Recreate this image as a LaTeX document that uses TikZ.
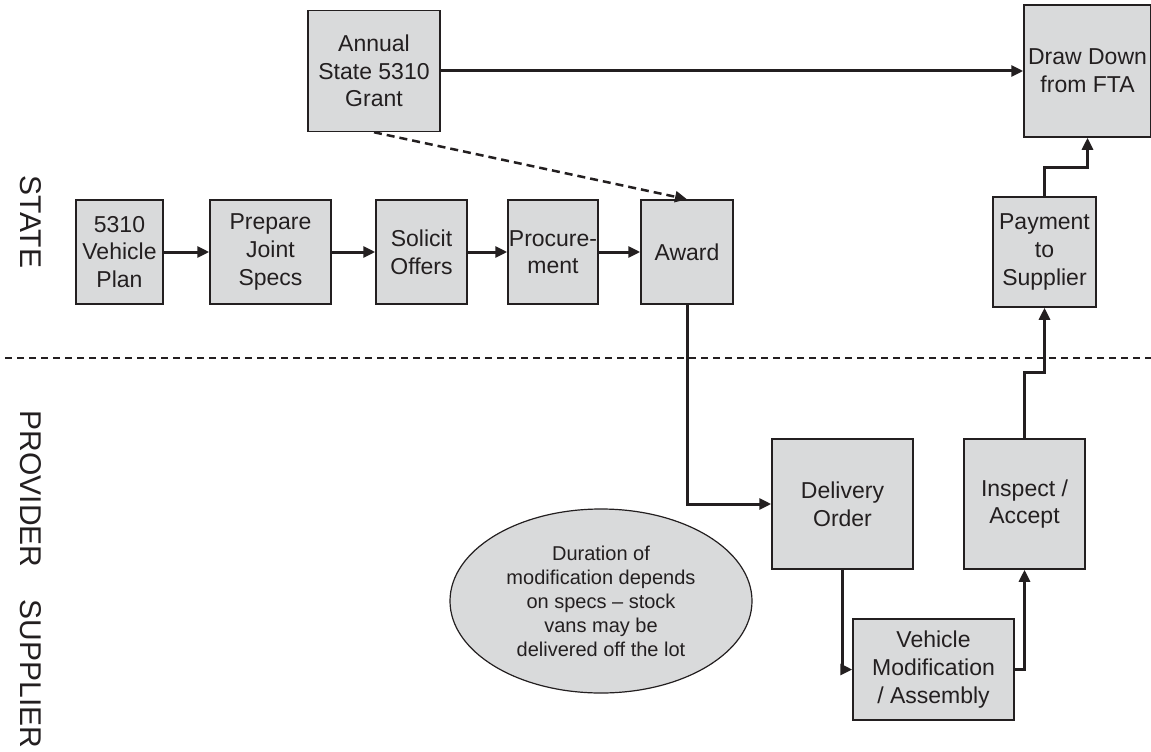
\documentclass[tikz,border=0pt]{standalone}
\usepackage{fontspec}
\setmainfont{Liberation Sans}
\usetikzlibrary{arrows.meta,shapes.geometric}
\definecolor{boxfill}{HTML}{D9DADB}
\definecolor{ink}{HTML}{231F20}
\tikzset{
  stepbox/.style={draw=ink, line width=1.5pt, fill=boxfill, align=center, inner sep=0pt,
    font=\fontsize{23}{27.6}\selectfont, text=ink},
  conn/.style={draw=ink, line width=3pt, -{Triangle[length=12pt,width=11pt]}},
  dconn/.style={draw=ink, line width=2.5pt, dash pattern=on 8pt off 5pt, -{Triangle[length=12pt,width=11pt]}},
  sidelabel/.style={font=\fontsize{30}{36}\selectfont, text=ink, inner sep=0pt, rotate=-90},
  sep/.style={draw=ink, line width=2.5pt, dash pattern=on 7pt off 5pt},
}
\begin{document}
\begin{tikzpicture}[x=1pt,y=-1pt]
\useasboundingbox (0,0) rectangle (1151,752);

% side labels
\node[sidelabel] (state) at (31,222) {STATE};
\node[sidelabel] (provider) at (31,489) {PROVIDER};
\node[sidelabel] (supplier) at (31,674) {SUPPLIER};

% separator
\coordinate (sepL) at (5,358);
\coordinate (sepR) at (1151,358);
\draw[sep] (sepL) -- (sepR);

% boxes
\node[stepbox, minimum width=132pt, minimum height=121pt] (annual) at (374,71) {Annual\\State 5310\\Grant};
\node[stepbox, minimum width=127pt, minimum height=132pt] (draw) at (1087.5,71) {Draw Down\\from FTA};

\node[stepbox, minimum width=87pt, minimum height=104pt] (plan) at (119.5,252) {5310\\Vehicle\\Plan};
\node[stepbox, minimum width=121pt, minimum height=104pt] (specs) at (270.5,252) {Prepare\\Joint\\Specs};
\node[stepbox, minimum width=91pt, minimum height=104pt] (solicit) at (421.5,252) {Solicit\\Offers};
\node[stepbox, minimum width=90pt, minimum height=104pt] (procure) at (553,252) {Procure-\\ment};
\node[stepbox, minimum width=92pt, minimum height=104pt] (award) at (687,252) {Award};
\node[stepbox, minimum width=103pt, minimum height=110pt] (pay) at (1044.5,252) {Payment\\to\\Supplier};

\node[stepbox, minimum width=141pt, minimum height=130pt] (delivery) at (842.5,504) {Delivery\\Order};
\node[stepbox, minimum width=121pt, minimum height=130pt] (inspect) at (1024.5,504) {Inspect /\\Accept};
\node[stepbox, minimum width=161pt, minimum height=101pt] (vehicle) at (933.5,669.5) {Vehicle\\Modification\\/ Assembly};

\node[draw=ink, line width=1.2pt, fill=boxfill, ellipse, minimum width=302pt, minimum height=184pt,
  inner sep=0pt, align=center, text=ink, font=\fontsize{20}{24}\selectfont] (note) at (601,601)
  {Duration of\\modification depends\\on specs \textendash{} stock\\vans may be\\delivered off the lot};

% connectors
\draw[conn] (annual) -- (draw);
\draw[dconn] (annual.south) -- (award.north);
\draw[conn] (plan) -- (specs);
\draw[conn] (specs) -- (solicit);
\draw[conn] (solicit) -- (procure);
\draw[conn] (procure) -- (award);
\draw[conn] (award.south) |- (delivery.west);
\draw[conn] (delivery.south) |- (vehicle.west);
\draw[conn] (vehicle.east) -| (inspect.south);
\draw[conn] (inspect.north) -- ++(0,-66) -| (pay.south);
\draw[conn] (pay.north) -- ++(0,-29) -| (draw.south);
\end{tikzpicture}
\end{document}
